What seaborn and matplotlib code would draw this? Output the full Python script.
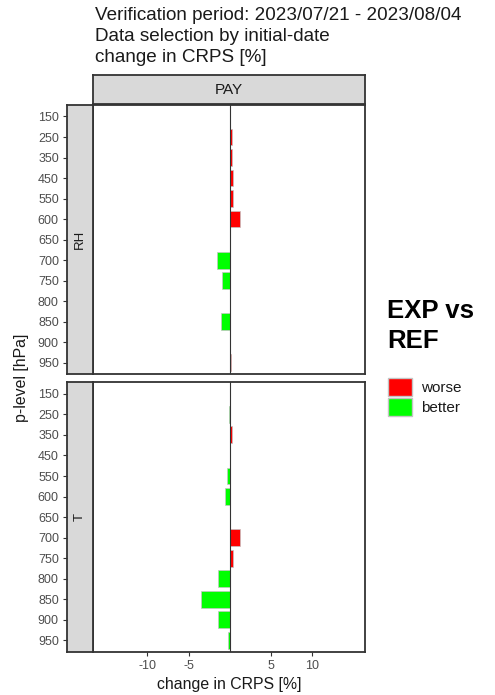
import numpy as np
import pandas as pd
import matplotlib
matplotlib.use("Agg")
import matplotlib.pyplot as plt
from matplotlib.patches import Patch
import seaborn as sns

# pressure levels shown on both panels (top to bottom)
levels = ["150", "250", "350", "450", "550", "600", "650",
          "700", "750", "800", "850", "900", "950"]

# change in CRPS [%] of EXP relative to REF, per level
rh_change = [0.0, 0.3, 0.3, 0.4, 0.4, 1.3, 0.05,
             -1.55, -0.9, 0.0, -1.05, 0.05, 0.2]
t_change = [0.05, -0.05, 0.25, 0.0, -0.3, -0.5, 0.05,
            1.3, 0.4, -1.35, -3.5, -1.35, -0.2]

variables = ["RH", "T"]
facet_title = "PAY"
x_ticks = [-10, -5, 5, 10]
effect_colors = {"worse": "#FF0000", "better": "#00FF00"}

title_lines = ["Verification period: 2023/07/21 - 2023/08/04",
               "Data selection by initial-date",
               "change in CRPS [%]"]
legend_title = ["EXP vs", "REF"]

sns.set_style("white")
plt.rcParams["font.family"] = ["Liberation Sans", "DejaVu Sans"]

W, H = 495, 695
fig = plt.figure(figsize=(W / 100, H / 100), dpi=100)


def fx(px):
    return px / W


def fy(py):
    return 1 - py / H


def box(x0, y0, x1, y1):
    return [fx(x0), fy(y1), fx(x1) - fx(x0), (y1 - y0) / H]


border = "#333333"
tick_grey = "#4D4D4D"
strip_fill = "#D9D9D9"
bar_edge = "#C4C4C4"

panel_x0, panel_x1 = 93.3, 365
strip_x0 = 66.5
rows = [(105, 374), (382.3, 651.7)]

frames = {"RH": rh_change, "T": t_change}

for i, (var, (y0, y1)) in enumerate(zip(variables, rows)):
    vals = frames[var]
    df = pd.DataFrame({
        "level": levels,
        "change": vals,
        "effect": ["worse" if v > 0 else "better" for v in vals],
    })

    ax = fig.add_axes(box(panel_x0, y0, panel_x1, y1))
    sns.barplot(data=df, x="change", y="level", hue="effect",
                order=levels, hue_order=["worse", "better"],
                palette=effect_colors, saturation=1, dodge=False,
                orient="h", width=0.82, edgecolor=bar_edge, linewidth=0.5,
                legend=False, ax=ax)
    ax.axvline(0, color="#333333", lw=0.8, zorder=4)
    ax.set_xlim(-16.6, 16.5)
    ax.set_ylim(len(levels) - 0.45, -0.56)
    ax.set_xlabel("")
    ax.set_ylabel("")
    ax.tick_params(axis="y", left=False, labelleft=False)
    if i == len(variables) - 1:
        ax.set_xticks(x_ticks)
        ax.set_xticklabels([str(t) for t in x_ticks])
        ax.tick_params(axis="x", bottom=True, length=3, width=0.8,
                       color=border, labelsize=9, labelcolor=tick_grey, pad=3)
    else:
        ax.tick_params(axis="x", bottom=False, labelbottom=False)
    for sp in ax.spines.values():
        sp.set_visible(True)
        sp.set_color(border)
        sp.set_linewidth(1.3)
    ax.set_facecolor("white")

    # row strip between the tick labels and the panel
    sax = fig.add_axes(box(strip_x0, y0, panel_x0, y1))
    sax.set_facecolor(strip_fill)
    sax.set_xlim(0, 1)
    sax.set_ylim(len(levels) - 0.45, -0.56)
    sax.set_xticks([])
    sax.set_yticks(range(len(levels)))
    sax.set_yticklabels(levels)
    sax.tick_params(axis="y", left=True, length=3, width=0.8, color=border,
                    labelsize=9, labelcolor=tick_grey, pad=2.5)
    for sp in sax.spines.values():
        sp.set_visible(True)
        sp.set_color(border)
        sp.set_linewidth(1.3)
    sax.text(0.5, 0.5, var, transform=sax.transAxes, rotation=90,
             ha="center", va="center", fontsize=9.5, color="#1A1A1A")

# column strip above the panels
tax = fig.add_axes(box(panel_x0, 75, panel_x1, 104))
tax.set_facecolor(strip_fill)
tax.set_xticks([])
tax.set_yticks([])
for sp in tax.spines.values():
    sp.set_color(border)
    sp.set_linewidth(1.3)
tax.text(0.5, 0.5, facet_title, transform=tax.transAxes, ha="center",
         va="center", fontsize=11, color="#1A1A1A")

# title block
for line, base in zip(title_lines, [19.5, 41.0, 61.5]):
    fig.text(fx(95), fy(base), line, ha="left", va="baseline",
             fontsize=13.6, color="#1A1A1A")

# axis titles
fig.text(fx((panel_x0 + panel_x1) / 2), fy(689), "change in CRPS [%]",
         ha="center", va="baseline", fontsize=11.4, color="#1A1A1A")
fig.text(fx(22), fy(378), "p-level [hPa]", rotation=90, ha="center",
         va="center", fontsize=11.4, color="#1A1A1A")

# legend
for line, base in zip(legend_title, [318.3, 348.3]):
    fig.text(fx(387), fy(base), line, ha="left", va="baseline",
             fontsize=18.5, fontweight="bold", color="black")
handles = [Patch(facecolor=effect_colors[k], edgecolor=bar_edge, lw=1.0,
                 label=k) for k in ["worse", "better"]]
fig.legend(handles=handles, loc="upper left",
           bbox_to_anchor=(fx(388), fy(378)), frameon=False,
           fontsize=11, handlelength=1.55, handleheight=1.45,
           handletextpad=0.6, labelspacing=0.12, borderpad=0,
           borderaxespad=0, labelcolor="#1A1A1A")

fig.savefig("out.png", dpi=100, facecolor="white")
